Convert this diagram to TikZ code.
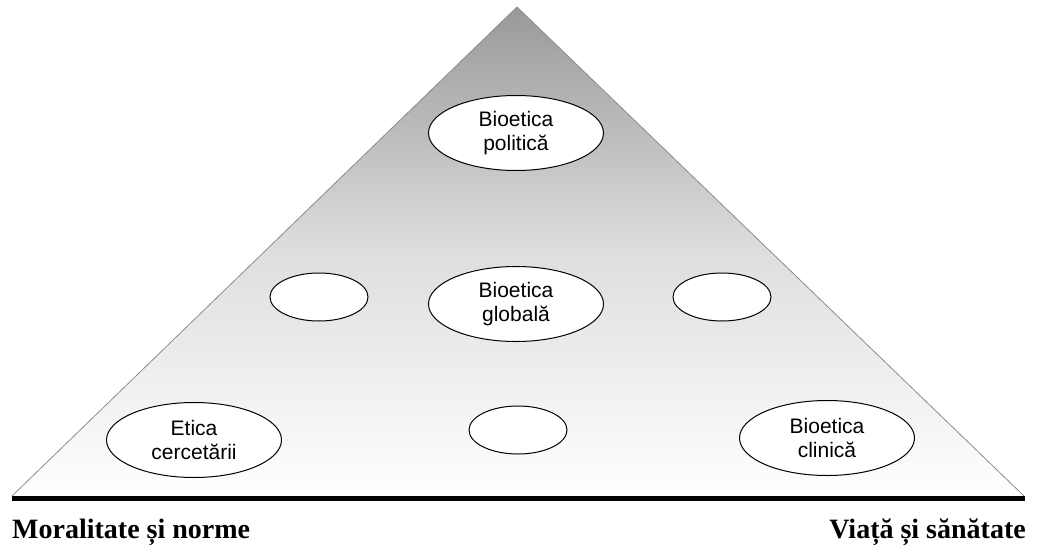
\documentclass[tikz,border=0pt]{standalone}
\usepackage{fontspec}
\setmainfont{Liberation Serif}
\newfontfamily\arialf{Liberation Sans}
\usetikzlibrary{shapes.geometric}
\begin{document}
\begin{tikzpicture}[x=1pt,y=-1pt,
  oval/.style={draw=black,fill=white,ellipse,line width=1pt,inner sep=0pt,font=\arialf\fontsize{21}{24}\selectfont,align=center},
  bigoval/.style={oval,minimum width=175pt,minimum height=75pt},
  smalloval/.style={oval,minimum width=98pt,minimum height=48pt},
  caption/.style={font=\bfseries\fontsize{28}{32}\selectfont,inner sep=0pt}]
\useasboundingbox (0,0) rectangle (1038,549);
\coordinate (apex) at (517,7);
\coordinate (bl) at (12,496);
\coordinate (br) at (1024,496);
\begin{scope}
\clip (apex) -- (br) -- (bl) -- cycle;
\shade[top color=black!40,bottom color=white,middle color=black!13] (0,7) rectangle (1038,496);
\end{scope}
\draw[black!45,line width=0.8pt] (bl) -- (apex) -- (br);
\draw[black,line width=5pt] (12,498.5) -- (1025,498.5);
\node[bigoval] (pol) at (516,133) {Bioetica\\politică};
\node[bigoval] (glob) at (516,304) {Bioetica\\globală};
\node[smalloval] (sl) at (319,297) {};
\node[smalloval] (sr) at (722,297) {};
\node[bigoval] (cerc) at (194,440) {Etica\\cercetării};
\node[smalloval] (sm) at (518,430) {};
\node[bigoval] (clin) at (827,438) {Bioetica\\clinică};
\node[caption,anchor=base west] (moral) at (12,538) {Moralitate și norme};
\node[caption,anchor=base east] (viata) at (1026,538) {Viață și sănătate};
\end{tikzpicture}
\end{document}
